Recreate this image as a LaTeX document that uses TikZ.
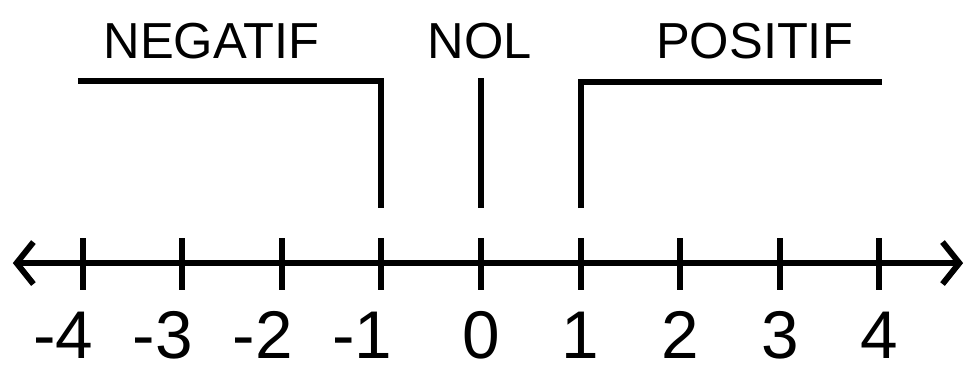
\documentclass[tikz,border=0pt]{standalone}
\usepackage{fontspec}
\setmainfont{Liberation Sans}
\usetikzlibrary{arrows.meta, positioning}

\tikzset{
	axisline/.style={line width=4.6pt, {Straight Barb[length=0.42cm, width=1.05cm, line width=4.2pt]}-{Straight Barb[length=0.42cm, width=1.05cm, line width=4.2pt]}},
	tickline/.style={line width=4.2pt},
	bracketline/.style={line width=4.2pt, line join=miter},
	lbl/.style={inner sep=0pt, anchor=base, font=\fontsize{36}{40}\selectfont},
	num/.style={inner sep=0pt, anchor=base, font=\fontsize{48}{50}\selectfont}
}

\begin{document}
\begin{tikzpicture}[x=2.49cm, y=2.49cm]
		\useasboundingbox (-4.829,-1.054) rectangle (4.859,2.641);
		% axis
		\coordinate (L) at (-4.70,0);
		\coordinate (R) at (4.84,0);
		\draw[axisline] (L)--(R);
		\foreach \n in {-4,...,4} {
			\coordinate (T\n) at (\n,0);
			\draw[tickline] (\n,0.25)--(\n,-0.27);
		}
		% numbers
		\foreach \n in {-4,...,-1}
			\node[num, xshift=-0.48cm] (N\n) at (\n,-0.96) {\n};
		\foreach \n in {0,...,4}
			\node[num] (N\n) at (\n,-0.96) {\n};
		% brackets
		\coordinate (A) at (-4.046,1.827);
		\coordinate (A1) at (-1,1.827);
		\coordinate (B) at (-1,0.552);
		\coordinate (C) at (0,1.857);
		\coordinate (C1) at (0,0.552);
		\coordinate (D) at (1,0.552);
		\coordinate (D1) at (1,1.817);
		\coordinate (E) at (4.026,1.817);
		\draw[bracketline] (A)--(A1)--(B);
		\draw[bracketline] (C)--(C1);
		\draw[bracketline] (D)--(D1)--(E);
		% labels
		\node[lbl] (neg) at (-2.706,2.058) {NEGATIF};
		\node[lbl] (nol) at (-0.01,2.058) {NOL};
		\node[lbl] (pos) at (2.746,2.058) {POSITIF};
	\end{tikzpicture}
\end{document}
